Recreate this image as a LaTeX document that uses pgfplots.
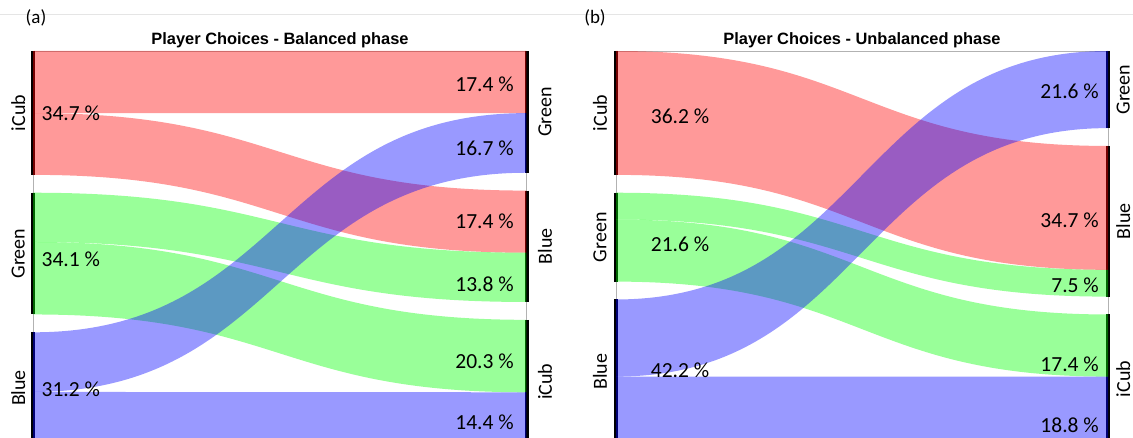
\documentclass[border=0pt]{standalone}
\usepackage{pgfplots}
\pgfplotsset{compat=1.18}
\usepackage{fontspec}
\setmainfont{Carlito}
\newfontfamily\titlefont{Liberation Sans}
\definecolor{dred}{rgb}{0.45,0,0}
\definecolor{dgreen}{rgb}{0,0.40,0}
\definecolor{dblue}{rgb}{0,0,0.45}
\newcommand\pcfont{\fontsize{21.5}{22}\selectfont}
\newcommand\nodefont{\fontsize{20}{20}\selectfont}
% band: #1 colour, #2 left top, #3 left bottom, #4 right top, #5 right bottom, #6 dark colour
\newcommand\band[6]{%
  \addplot[draw=none, fill=#1, fill opacity=0.4] coordinates {(0,#2) (0,#3)}
    .. controls (axis cs:0.5,#3) and (axis cs:0.5,#5) .. (axis cs:1,#5)
    -- (axis cs:1,#4)
    .. controls (axis cs:0.5,#4) and (axis cs:0.5,#2) .. (axis cs:0,#2) -- cycle;
  \addplot[#6, line width=1.8pt] coordinates {(0.0018,#2) (0.0018,#3)};
  \addplot[#6, line width=1.8pt] coordinates {(0.9982,#4) (0.9982,#5)};
}
\newcommand\nodebar[3]{% #1 x, #2 top, #3 bottom
  \addplot[black, line width=2.4pt] coordinates {(#1,#2) (#1,#3)};
}
\pgfplotsset{
  sankey/.style={
    scale only axis, height=392.7pt,
    xmin=0, xmax=1, ymin=0, ymax=110, y dir=reverse,
    xtick=\empty, ytick=\empty,
    axis line style={gray!60, line width=0.6pt},
    clip=false,
  },
}
\tikzset{
  pc/.style={inner sep=0pt, font=\pcfont},
  nl/.style={inner sep=0pt, rotate=90, font=\nodefont},
}
\begin{document}
\begin{tikzpicture}
\useasboundingbox (0pt,0pt) rectangle (1133pt,438pt);
\draw[gray!20, line width=0.6pt] (0pt,424pt) -- (1133pt,424pt);
\node[font=\fontsize{19}{19}\selectfont, inner sep=0pt] at (36pt,420pt) {(a)};
\node[font=\fontsize{19}{19}\selectfont, inner sep=0pt] at (595pt,420pt) {(b)};
\node[font=\titlefont\bfseries\fontsize{16.4}{17}\selectfont, anchor=base, inner sep=0pt] at (280pt,393pt) {Player Choices - Balanced phase};
\node[font=\titlefont\bfseries\fontsize{16.4}{17}\selectfont, anchor=base, inner sep=0pt] at (862pt,393pt) {Player Choices - Unbalanced phase};

% ---------------- (a) balanced ----------------
\begin{axis}[sankey, width=493pt, at={(33.3pt,387pt)}, anchor=north west]
  \nodebar{-0.0024}{0}{34.7}
  \nodebar{-0.0024}{39.7}{73.8}
  \nodebar{-0.0024}{78.8}{110}
  \nodebar{1.0024}{0}{34.1}
  \nodebar{1.0024}{39.1}{70.3}
  \nodebar{1.0024}{75.3}{110}
  \band{red}{0}{17.4}{0}{17.4}{dred}
  \band{red}{17.4}{34.7}{39.1}{56.5}{dred}
  \band{green}{39.7}{53.5}{56.5}{70.3}{dgreen}
  \band{green}{53.5}{73.8}{75.3}{95.6}{dgreen}
  \band{blue}{78.8}{95.5}{17.4}{34.1}{dblue}
  \band{blue}{95.5}{110}{95.6}{110}{dblue}
  \node[pc, anchor=base west] at (axis cs:0.0166,19.4) {34.7 \%};
  \node[pc, anchor=base west] at (axis cs:0.0166,60.4) {34.1 \%};
  \node[pc, anchor=base west] at (axis cs:0.0166,96.7) {31.2 \%};
  \node[pc, anchor=base east] at (axis cs:0.975,11.3) {17.4 \%};
  \node[pc, anchor=base east] at (axis cs:0.975,29.2) {16.7 \%};
  \node[pc, anchor=base east] at (axis cs:0.975,49.8) {17.4 \%};
  \node[pc, anchor=base east] at (axis cs:0.975,67.4) {13.8 \%};
  \node[pc, anchor=base east] at (axis cs:0.975,89.0) {20.3 \%};
  \node[pc, anchor=base east] at (axis cs:0.975,106.1) {14.4 \%};
  \node[nl] at (axis cs:-0.0304,17.35) {iCub};
  \node[nl] at (axis cs:-0.0304,56.75) {Green};
  \node[nl] at (axis cs:-0.0304,94.4) {Blue};
  \node[nl] at (axis cs:1.038,17.05) {Green};
  \node[nl] at (axis cs:1.038,54.7) {Blue};
  \node[nl] at (axis cs:1.038,92.65) {iCub};
\end{axis}

% ---------------- (b) unbalanced ----------------
\begin{axis}[sankey, width=492pt, at={(616pt,387pt)}, anchor=north west]
  \nodebar{-0.0024}{0}{34.7}
  \nodebar{-0.0024}{39.7}{64.6}
  \nodebar{-0.0024}{69.6}{110}
  \nodebar{1.0024}{0}{21.6}
  \nodebar{1.0024}{26.6}{68.8}
  \nodebar{1.0024}{73.8}{110}
  \band{red}{0}{34.7}{26.6}{61.3}{dred}
  \band{green}{39.7}{47.2}{61.3}{68.8}{dgreen}
  \band{green}{47.2}{64.6}{73.8}{91.2}{dgreen}
  \band{blue}{69.6}{91.2}{0}{21.6}{dblue}
  \band{blue}{91.2}{110}{91.2}{110}{dblue}
  \node[pc, anchor=base west] at (axis cs:0.0705,20.2) {36.2 \%};
  \node[pc, anchor=base west] at (axis cs:0.0705,56.2) {21.6 \%};
  \node[pc, anchor=base west] at (axis cs:0.0705,91.5) {42.2 \%};
  \node[pc, anchor=base east] at (axis cs:0.9817,13.2) {21.6 \%};
  \node[pc, anchor=base east] at (axis cs:0.9817,49.4) {34.7 \%};
  \node[pc, anchor=base east] at (axis cs:0.9817,67.7) {7.5 \%};
  \node[pc, anchor=base east] at (axis cs:0.9817,89.9) {17.4 \%};
  \node[pc, anchor=base east] at (axis cs:0.9817,106.9) {18.8 \%};
  \node[nl] at (axis cs:-0.0325,17.35) {iCub};
  \node[nl] at (axis cs:-0.0325,52.15) {Green};
  \node[nl] at (axis cs:-0.0325,89.8) {Blue};
  \node[nl] at (axis cs:1.031,10.8) {Green};
  \node[nl] at (axis cs:1.031,47.7) {Blue};
  \node[nl] at (axis cs:1.031,91.9) {iCub};
\end{axis}
\end{tikzpicture}
\end{document}
